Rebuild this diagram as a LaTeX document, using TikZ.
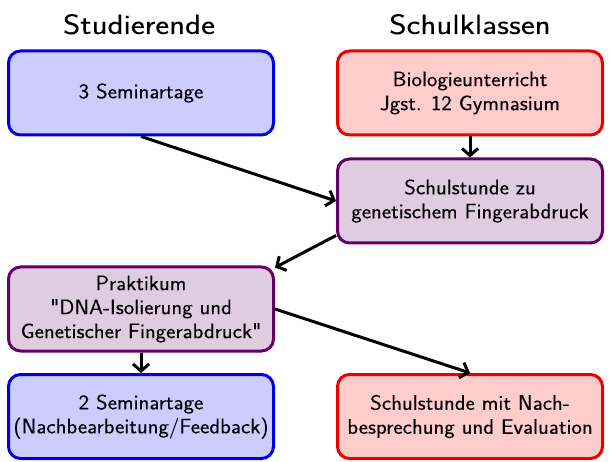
\documentclass[tikz,border=0pt]{standalone}
\usepackage{fontspec}
\newfontfamily\boxfont{Latin Modern Sans}[FakeStretch=1.06,FakeBold=0.2]
\newfontfamily\titlefont{Latin Modern Sans}[FakeStretch=1.18,FakeBold=0.1]
\usetikzlibrary{arrows.meta}
\definecolor{bluebd}{RGB}{0,0,225}
\definecolor{bluefill}{RGB}{204,204,255}
\definecolor{redbd}{RGB}{235,0,0}
\definecolor{redfill}{RGB}{255,204,204}
\definecolor{purpbd}{RGB}{102,0,102}
\definecolor{purpfill}{RGB}{224,204,224}
\begin{document}
\begin{tikzpicture}[x=1pt,y=-1pt,
  box/.style={rounded corners=12pt, line width=3pt, minimum width=265pt, minimum height=84pt,
    align=center, inner sep=0pt, font=\boxfont\fontsize{21}{24}\selectfont},
  bluebox/.style={box, draw=bluebd, fill=bluefill},
  redbox/.style={box, draw=redbd, fill=redfill},
  purpbox/.style={box, draw=purpbd, fill=purpfill},
  title/.style={anchor=base, font=\titlefont\fontsize{28}{32}\selectfont},
  arr/.style={line width=3pt, -{Straight Barb[length=7pt,width=16pt]}}]
\useasboundingbox (0,0) rectangle (610,462);
\node[title] (t1) at (139,34) {Studierende};
\node[title] (t2) at (470,34) {Schulklassen};
\node[bluebox] (b1) at (141,93) {3 Seminartage};
\node[redbox] (b2) at (470,93) {Biologieunterricht\\Jgst. 12 Gymnasium};
\node[purpbox] (b3) at (470,201) {Schulstunde zu\\genetischem Fingerabdruck};
\node[purpbox] (b4) at (141,309) {Praktikum\\"DNA-Isolierung und\\Genetischer Fingerabdruck"};
\node[bluebox] (b5) at (141,416.5) {2 Seminartage\\(Nachbearbeitung/Feedback)};
\node[redbox] (b6) at (470,416.5) {Schulstunde mit Nach-\\besprechung und Evaluation};
\draw[arr] (b2.south) -- (b3.north);
\draw[arr] (b1.south) -- (b3.west);
\draw[arr] ([yshift=9pt]b3.south west) -- ([yshift=-2pt]b4.north east);
\draw[arr] (b4.east) -- (b6.north);
\draw[arr] (b4.south) -- (b5.north);
\end{tikzpicture}
\end{document}
